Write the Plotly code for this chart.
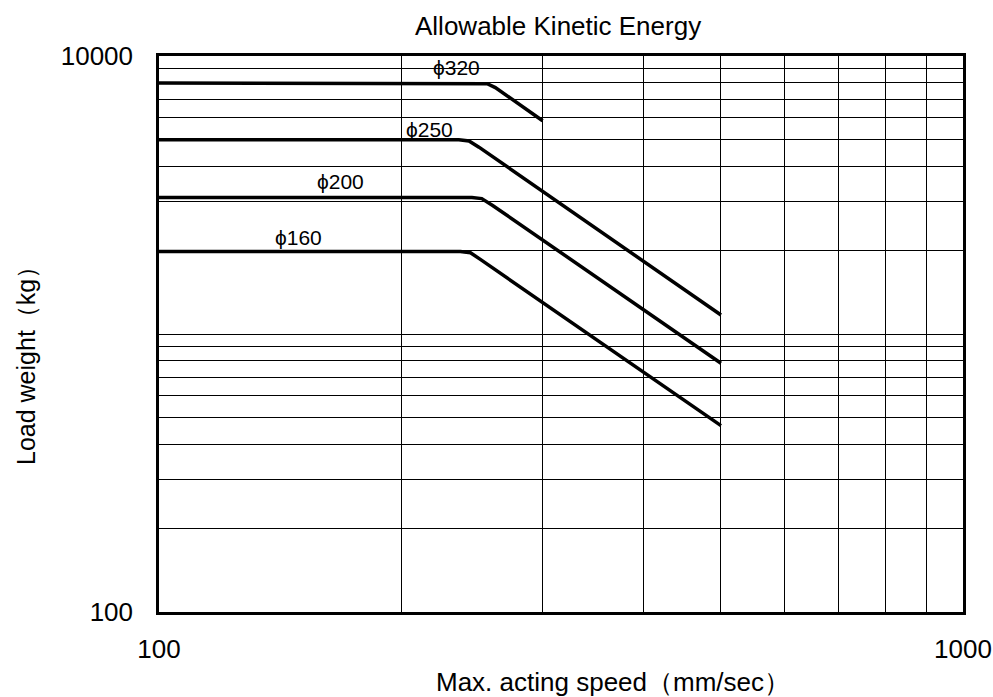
import math
import plotly.graph_objects as go

# Data (speed mm/sec, load kg)
speed_320 = [100, 250, 256, 262, 300]
load_320 = [8000, 8000, 7950, 7700, 5850]

speed_250 = [100, 236, 243, 250, 500]
load_250 = [5000, 5000, 4950, 4700, 1170]

speed_200 = [100, 245, 252, 260, 500]
load_200 = [3100, 3100, 3070, 2900, 785]

speed_160 = [100, 237, 244, 251, 500]
load_160 = [1980, 1980, 1960, 1855, 468]

series_names = ["ϕ320", "ϕ250", "ϕ200", "ϕ160"]
label_x = [234.6, 217, 168, 149]
label_y = [9056, 5420, 3525, 2215]

x_ticks = [100, 200, 300, 400, 500, 600, 700, 800, 900, 1000]
x_ticktext = ["100", "", "", "", "", "", "", "", "", "1000"]
y_ticks = [100, 200, 300, 400, 500, 600, 700, 800, 900,
           1000, 2000, 3000, 4000, 5000, 6000, 7000, 8000, 9000, 10000]
y_ticktext = ["100"] + [""] * 17 + ["10000"]

FONT = "Liberation Sans, Arial, sans-serif"

W, H = 993, 697
L, T, R, B = 159, 56, 30, 85

fig = go.Figure()
for xs, ys, nm in [(speed_320, load_320, series_names[0]),
                   (speed_250, load_250, series_names[1]),
                   (speed_200, load_200, series_names[2]),
                   (speed_160, load_160, series_names[3])]:
    fig.add_trace(go.Scatter(x=xs, y=ys, mode="lines", name=nm,
                             line=dict(color="black", width=3.5),
                             showlegend=False, hoverinfo="skip"))

for nm, lx, ly in zip(series_names, label_x, label_y):
    fig.add_annotation(x=math.log10(lx), y=math.log10(ly), xref="x", yref="y",
                       text=nm, showarrow=False, xanchor="center", yanchor="middle",
                       font=dict(family=FONT, size=21, color="black"))

plot_w = W - L - R
plot_h = H - T - B


def px_x(px):
    return (px - L) / plot_w


def px_y(py):
    return (H - B - py) / plot_h


fig.add_annotation(x=px_x(558), y=px_y(26), xref="paper", yref="paper",
                   xanchor="center", yanchor="middle",
                   text="Allowable Kinetic Energy", showarrow=False,
                   font=dict(family=FONT, size=26, color="black"))
fig.add_annotation(x=px_x(613), y=px_y(682), xref="paper", yref="paper",
                   xanchor="center", yanchor="middle",
                   text="Max. acting speed（mm/sec）", showarrow=False,
                   font=dict(family=FONT, size=26, color="black"))
fig.add_annotation(x=px_x(26), y=px_y(360), xref="paper", yref="paper",
                   xanchor="center", yanchor="middle",
                   text="Load weight（kg）", showarrow=False, textangle=-90,
                   font=dict(family=FONT, size=25, color="black"))

fig.update_layout(
    width=W, height=H, autosize=False,
    margin=dict(l=L, r=R, t=T, b=B),
    paper_bgcolor="white", plot_bgcolor="white",
    font=dict(family=FONT, color="black"),
)

fig.update_xaxes(type="log", range=[2, 3], tickvals=x_ticks, ticktext=x_ticktext,
                 showgrid=True, gridcolor="black", gridwidth=1,
                 showline=True, linecolor="black", linewidth=2.5, mirror=True,
                 ticks="", ticklabelstandoff=12, automargin=False,
                 tickfont=dict(family=FONT, size=26, color="black"),
                 zeroline=False)
fig.update_yaxes(type="log", range=[2, 4], tickvals=y_ticks, ticktext=y_ticktext,
                 showgrid=True, gridcolor="black", gridwidth=1,
                 showline=True, linecolor="black", linewidth=2.5, mirror=True,
                 ticks="", ticklabelstandoff=18, automargin=False,
                 tickfont=dict(family=FONT, size=26, color="black"),
                 zeroline=False)

fig.write_html(
    "out.html",
    config={"responsive": False, "displayModeBar": False},
    post_script="document.body.style.margin='0';document.body.style.overflow='hidden';",
)
